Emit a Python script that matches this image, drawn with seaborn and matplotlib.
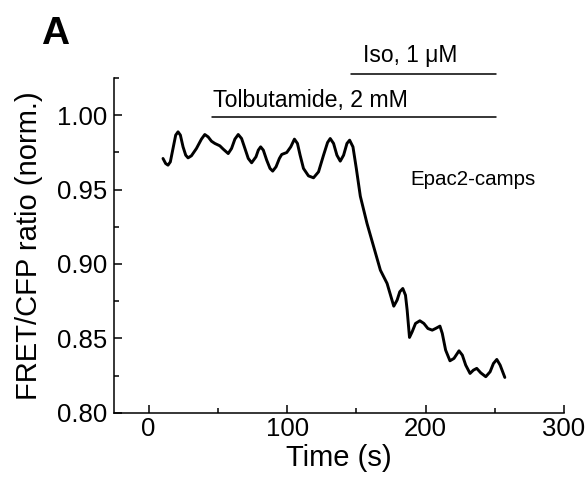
import numpy as np
import pandas as pd
import seaborn as sns
import matplotlib.pyplot as plt
from matplotlib.ticker import MultipleLocator

### Data
time_s = [10.39, 12.32, 14.01, 15.70, 17.63, 19.57, 21.26, 22.95, 24.88, 26.81,
          28.50, 30.92, 34.54, 38.16, 40.58, 43.00, 45.41, 47.83, 51.45, 53.86,
          57.49, 59.90, 62.32, 64.73, 67.15, 69.57, 71.98, 74.40, 77.54, 79.23,
          80.92, 82.85, 85.27, 87.68, 89.61, 92.03, 94.44, 96.14, 99.76, 102.66,
          105.31, 107.49, 109.42, 111.84, 115.46, 119.08, 122.71, 126.33, 129.23, 131.16,
          133.57, 135.99, 138.41, 140.82, 143.24, 145.17, 147.58, 150.00, 152.90, 157.73,
          162.56, 167.39, 172.22, 177.05, 179.47, 181.40, 183.57, 185.51, 186.71, 188.41,
          190.34, 192.75, 195.89, 198.79, 201.69, 204.83, 207.25, 210.39, 212.08, 214.49,
          217.63, 220.53, 224.15, 226.57, 228.99, 232.13, 234.54, 236.96, 239.86, 243.48,
          246.62, 249.03, 251.45, 253.86, 257.25]
fret_ratio = [0.9709, 0.9675, 0.9664, 0.9686, 0.9776, 0.9866, 0.9888, 0.9866, 0.9787, 0.9731,
              0.9713, 0.9727, 0.9776, 0.9839, 0.9870, 0.9854, 0.9825, 0.9810, 0.9794, 0.9772,
              0.9742, 0.9776, 0.9839, 0.9870, 0.9843, 0.9776, 0.9709, 0.9680, 0.9720, 0.9765,
              0.9787, 0.9765, 0.9698, 0.9642, 0.9624, 0.9653, 0.9709, 0.9736, 0.9749, 0.9787,
              0.9839, 0.9810, 0.9731, 0.9642, 0.9592, 0.9579, 0.9619, 0.9731, 0.9816, 0.9843,
              0.9810, 0.9731, 0.9691, 0.9731, 0.9810, 0.9832, 0.9787, 0.9642, 0.9455, 0.9272,
              0.9115, 0.8958, 0.8869, 0.8716, 0.8757, 0.8813, 0.8835, 0.8790, 0.8690, 0.8506,
              0.8544, 0.8600, 0.8618, 0.8600, 0.8566, 0.8555, 0.8566, 0.8582, 0.8533, 0.8421,
              0.8349, 0.8365, 0.8416, 0.8387, 0.8320, 0.8264, 0.8286, 0.8298, 0.8268, 0.8242,
              0.8275, 0.8331, 0.8358, 0.8320, 0.8237]

# drug application bars
tolb_span = [46, 251]
iso_span = [146, 251]

df = pd.DataFrame({'time': time_s, 'ratio': fret_ratio})

### Style
sns.set_style('ticks')
plt.rcParams['font.family'] = ['Liberation Sans', 'DejaVu Sans']
plt.rcParams['text.color'] = 'black'
plt.rcParams['axes.labelcolor'] = 'black'
plt.rcParams['xtick.color'] = 'black'
plt.rcParams['ytick.color'] = 'black'
plt.rcParams['axes.edgecolor'] = 'black'

fig = plt.figure(figsize=(5.86, 4.79), dpi=100)
ax = fig.add_axes([0.1945, 0.1384, 0.768, 0.6988])

sns.lineplot(data=df, x='time', y='ratio', color='black', lw=2.1, ax=ax)
for ln in ax.lines:
    ln.set_solid_joinstyle('round')
    ln.set_solid_capstyle('round')

ax.set_xlim(-25, 300)
ax.set_ylim(0.80, 1.025)
ax.xaxis.set_major_locator(MultipleLocator(100))
ax.xaxis.set_minor_locator(MultipleLocator(50))
ax.yaxis.set_minor_locator(MultipleLocator(0.025))
ax.set_yticks([0.80, 0.85, 0.90, 0.95, 1.00])
ax.set_yticklabels(['0.80', '0.85', '0.90', '0.95', '1.00'])

ax.tick_params(which='major', direction='in', length=6, width=1.1, labelsize=18.5)
ax.tick_params(axis='x', which='major', pad=3)
ax.tick_params(axis='y', which='major', pad=5)
ax.tick_params(which='minor', direction='in', length=3.5, width=1.1)

sns.despine(ax=ax)
for side in ['left', 'bottom']:
    ax.spines[side].set_linewidth(1.1)

ax.set_xlabel('Time (s)', fontsize=21, labelpad=2)
ax.set_ylabel('FRET/CFP ratio (norm.)', fontsize=21, labelpad=10)

# application bars
ax.plot(tolb_span, [0.9985, 0.9985], color='black', lw=1.1, clip_on=False)
ax.plot(iso_span, [1.0276, 1.0276], color='black', lw=1.1, clip_on=False)
ax.text(46.4, 1.0056, 'Tolbutamide, 2 mM', fontsize=16.7, ha='left', va='baseline')
ax.text(155, 1.0358, 'Iso, 1 μM', fontsize=16.4, ha='left', va='baseline', clip_on=False)
ax.text(189, 0.953, 'Epac2-camps', fontsize=14.8, ha='left', va='baseline')

fig.text(0.07, 0.908, 'A', fontsize=28, fontweight='bold', ha='left', va='baseline')

plt.savefig('out.png', dpi=100)
plt.close()
